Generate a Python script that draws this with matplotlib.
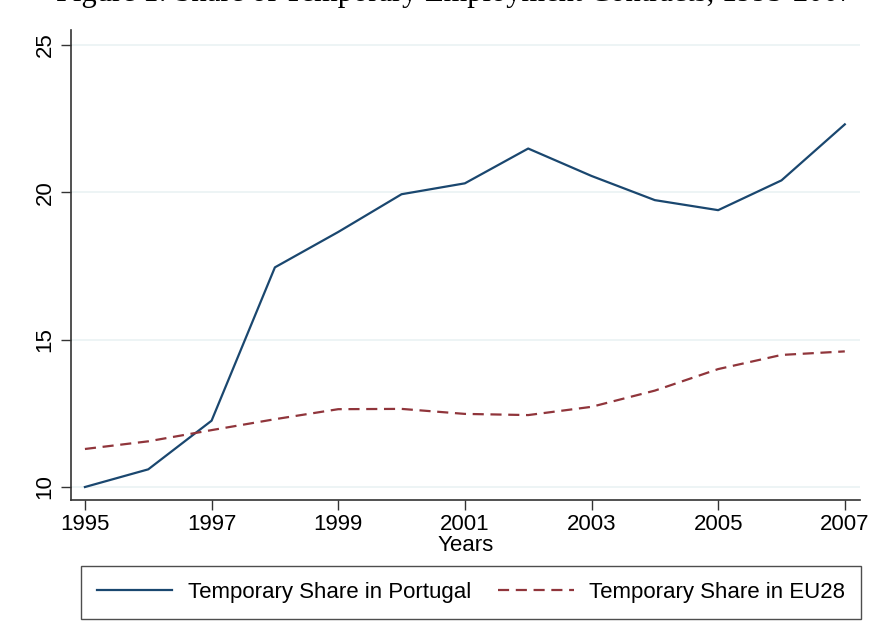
import matplotlib
matplotlib.use("Agg")
import matplotlib.pyplot as plt

years = [1995, 1996, 1997, 1998, 1999, 2000, 2001, 2002, 2003, 2004, 2005, 2006, 2007]
portugal = [10.0, 10.6, 12.25, 17.45, 18.65, 19.93, 20.3, 21.48, 20.55, 19.73, 19.39, 20.4, 22.3]
eu28 = [11.29, 11.55, 11.93, 12.3, 12.64, 12.65, 12.48, 12.44, 12.72, 13.27, 14.0, 14.48, 14.6]
xticks = [1995, 1997, 1999, 2001, 2003, 2005, 2007]
yticks = [10, 15, 20, 25]

plt.rcParams['font.family'] = ['Liberation Sans', 'DejaVu Sans']

fig = plt.figure(figsize=(8.75, 6.37), dpi=100)
ax = fig.add_axes([71/875, 137/637, (860-71)/875, (500-30)/637])

ax.plot(years, portugal, color='#1a476f', lw=1.6, label='Temporary Share in Portugal')
ax.plot(years, eu28, color='#90353b', lw=1.6, dashes=(5, 3), label='Temporary Share in EU28')

ax.set_xlim(1994.78, 2007.24)
ax.set_ylim(9.56, 25.5)
ax.set_xticks(xticks)
ax.set_yticks(yticks)
ax.tick_params(axis='both', labelsize=16, length=7, width=1.0, color='#333333', pad=3)
ax.tick_params(axis='y', labelrotation=90, pad=4)
for lab in ax.get_yticklabels():
    lab.set_va('center')
ax.grid(axis='y', color='#eaf2f3', lw=1.2)
ax.set_axisbelow(True)
for s in ['top', 'right']:
    ax.spines[s].set_visible(False)
for s in ['left', 'bottom']:
    ax.spines[s].set_color('#333333')
    ax.spines[s].set_linewidth(1.2)

ax.set_xlabel('Years', fontsize=16, labelpad=0)

leg = fig.legend(loc='center', bbox_to_anchor=(471/875, 1 - 592.5/637),
                 ncol=2, fontsize=16,
                 frameon=True, fancybox=False, edgecolor='#222222', handlelength=3.4,
                 handletextpad=0.7, columnspacing=1.2, borderpad=0.7)
leg.get_frame().set_linewidth(1.0)

fig.text(0.52, 1 - 1.0/637, 'Figure 1: Share of Temporary Employment Contracts, 1995-2007',
         ha='center', va='baseline', fontsize=22, family='Liberation Serif')

fig.savefig('out.png', dpi=100)
